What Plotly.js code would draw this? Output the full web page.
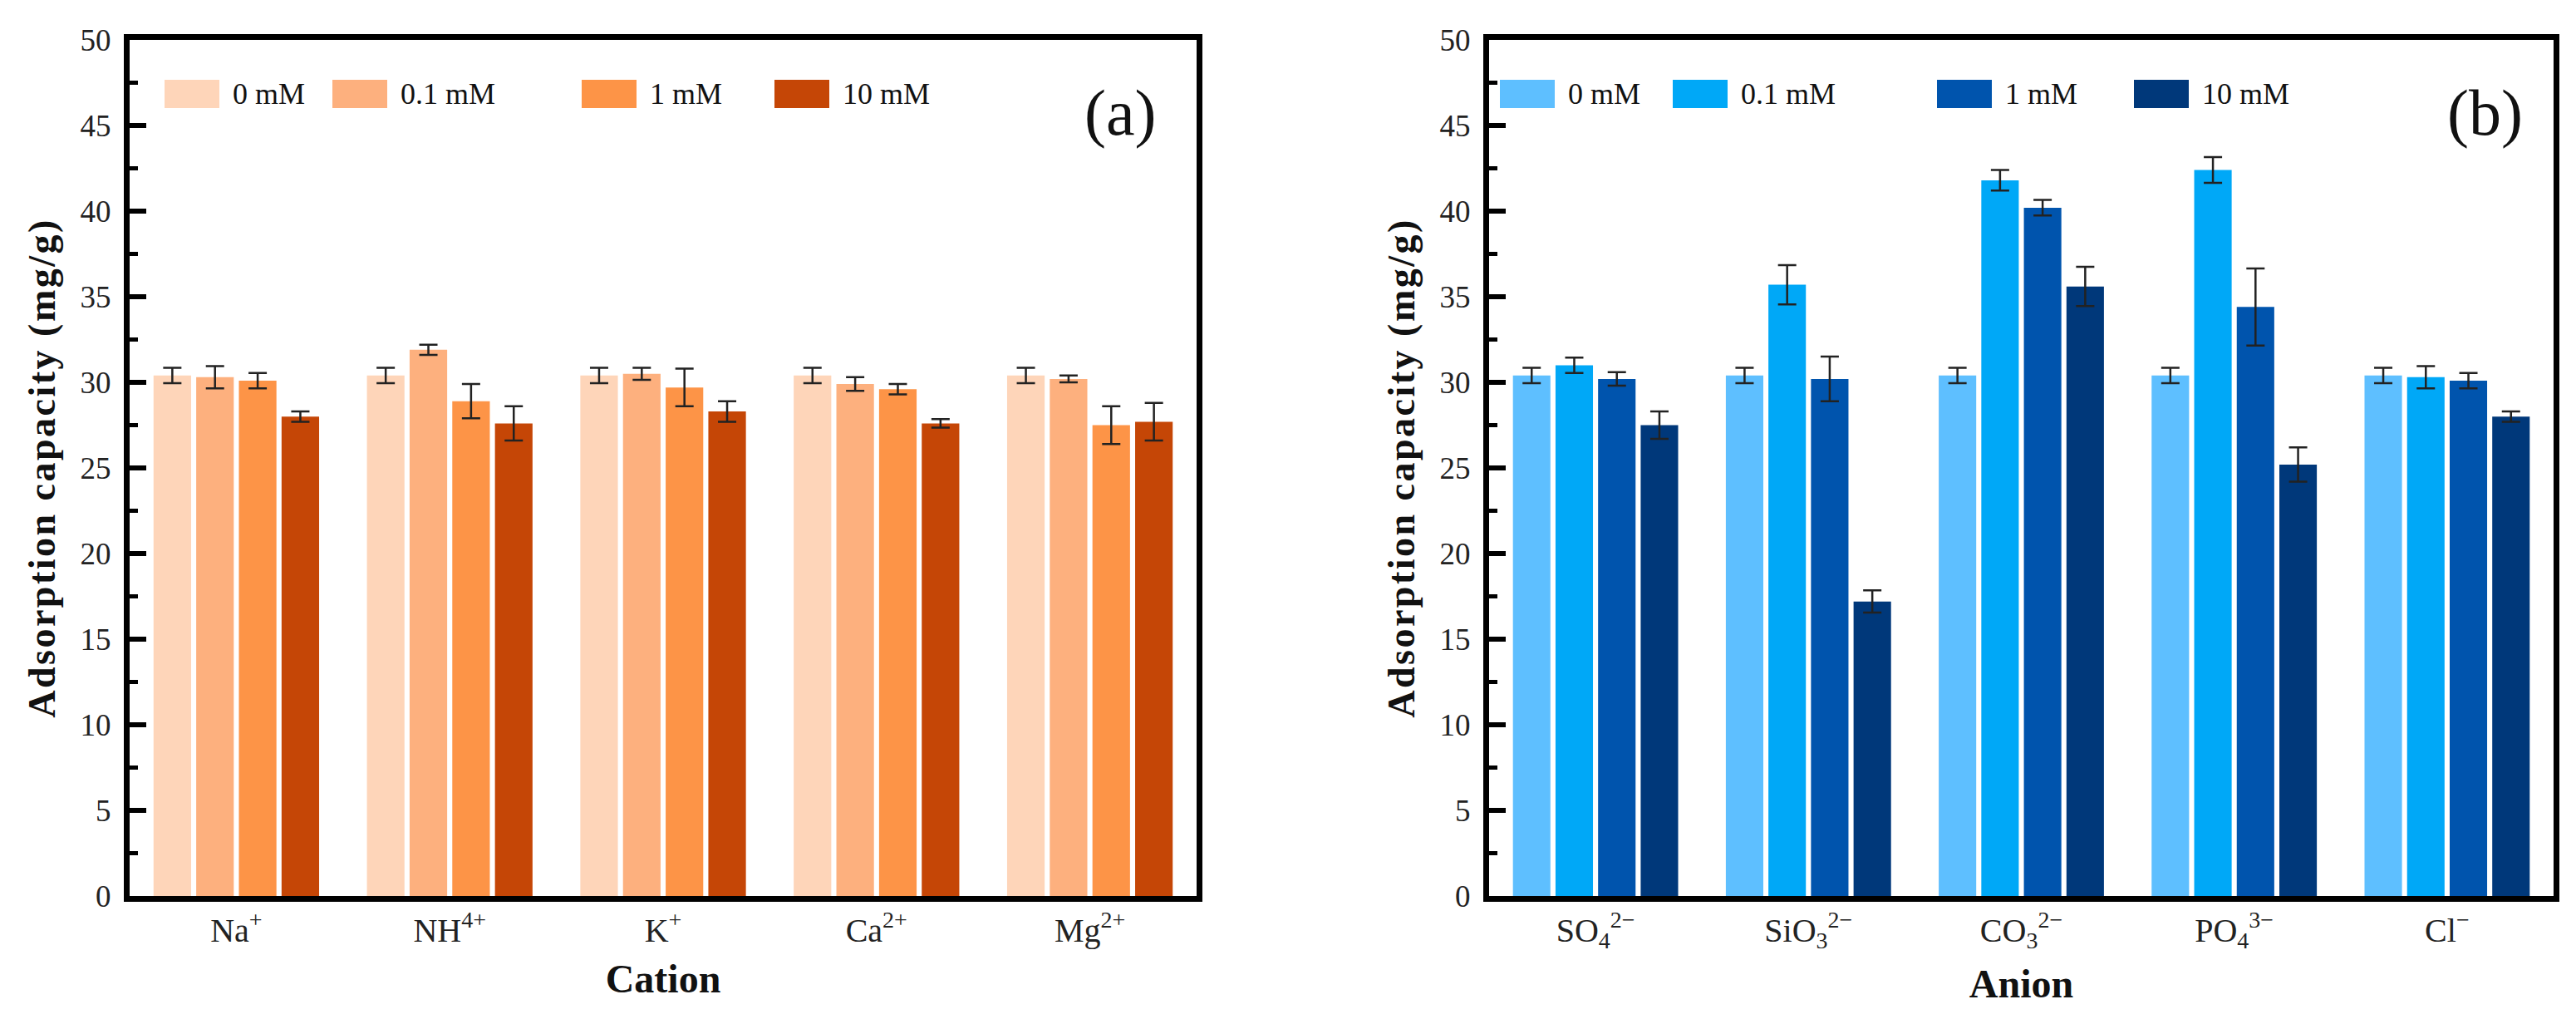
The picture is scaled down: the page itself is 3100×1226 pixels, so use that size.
<!DOCTYPE html>
<html>
<head>
<meta charset="utf-8">
<script src="https://cdn.plot.ly/plotly-3.0.1.min.js"></script>
<style>
  html, body { margin: 0; padding: 0; background: #fff; }
  #chart { width: 3100px; height: 1226px; }
  .g-ytitle text, .g-y2title text { letter-spacing: 2.5px; }
</style>
</head>
<body>
<div id="chart"></div>
<script>
// ---------------- DATA ----------------
const seriesNames = ['0 mM', '0.1 mM', '1 mM', '10 mM'];

const cations = ['Na<sup>+</sup>', 'NH<sup>4+</sup>', 'K<sup>+</sup>', 'Ca<sup>2+</sup>', 'Mg<sup>2+</sup>'];
const cation_0mM   = [30.4, 30.4, 30.4, 30.4, 30.4];
const cation_01mM  = [30.3, 31.9, 30.5, 29.9, 30.2];
const cation_1mM   = [30.1, 28.9, 29.7, 29.6, 27.5];
const cation_10mM  = [28.0, 27.6, 28.3, 27.6, 27.7];
const cationErr_0mM  = [0.45, 0.45, 0.45, 0.45, 0.45];
const cationErr_01mM = [0.65, 0.30, 0.35, 0.40, 0.20];
const cationErr_1mM  = [0.45, 1.00, 1.10, 0.30, 1.10];
const cationErr_10mM = [0.30, 1.00, 0.60, 0.25, 1.10];

const anions = ['SO<sub>4</sub><sup>2\u2212</sup>', 'SiO<sub>3</sub><sup>2\u2212</sup>', 'CO<sub>3</sub><sup>2\u2212</sup>', 'PO<sub>4</sub><sup>3\u2212</sup>', 'Cl<sup>\u2212</sup>'];
const anion_0mM   = [30.4, 30.4, 30.4, 30.4, 30.4];
const anion_01mM  = [31.0, 35.7, 41.8, 42.4, 30.3];
const anion_1mM   = [30.2, 30.2, 40.2, 34.4, 30.1];
const anion_10mM  = [27.5, 17.2, 35.6, 25.2, 28.0];
const anionErr_0mM  = [0.45, 0.45, 0.45, 0.45, 0.45];
const anionErr_01mM = [0.45, 1.15, 0.60, 0.75, 0.65];
const anionErr_1mM  = [0.40, 1.30, 0.45, 2.25, 0.45];
const anionErr_10mM = [0.80, 0.65, 1.15, 1.00, 0.30];

const yTickVals = [0, 5, 10, 15, 20, 25, 30, 35, 40, 45, 50];

// ---------------- STYLE ----------------
const orangeColors = ['#FED5B9', '#FDB07E', '#FD9447', '#C54606'];
const blueColors   = ['#5EBFFF', '#00A8F7', '#0054AD', '#00387A'];
const FONT = 'Liberation Serif, Times New Roman, serif';
const W = 3100, H = 1226;
const px = v => v / W;
const py = v => 1 - v / H;

const panels = [
  { xa: 'x', ya: 'y', cats: cations,
    vals: [cation_0mM, cation_01mM, cation_1mM, cation_10mM],
    errs: [cationErr_0mM, cationErr_01mM, cationErr_1mM, cationErr_10mM],
    colors: orangeColors, title: 'Cation', tag: '(a)',
    x0: 156, x1: 1440, legendX: [198, 400, 700, 932], tagX: 1348 },
  { xa: 'x2', ya: 'y2', cats: anions,
    vals: [anion_0mM, anion_01mM, anion_1mM, anion_10mM],
    errs: [anionErr_0mM, anionErr_01mM, anionErr_1mM, anionErr_10mM],
    colors: blueColors, title: 'Anion', tag: '(b)',
    x0: 1792, x1: 3073, legendX: [1805, 2013, 2331, 2568], tagX: 2990 }
];
const plotTop = 48, plotBottom = 1078;

const traces = [];
const shapes = [];
const annotations = [];

panels.forEach(p => {
  seriesNames.forEach((name, i) => {
    traces.push({
      type: 'bar', name: name, x: p.cats, y: p.vals[i],
      xaxis: p.xa, yaxis: p.ya, showlegend: false,
      marker: { color: p.colors[i], line: { width: 0 } },
      error_y: { type: 'data', array: p.errs[i], visible: true,
                 color: '#222', thickness: 2.5, width: 11 }
    });
    // legend swatch + label
    const sx = p.legendX[i];
    shapes.push({ type: 'rect', xref: 'paper', yref: 'paper',
      x0: px(sx), x1: px(sx + 66), y0: py(130), y1: py(96),
      fillcolor: p.colors[i], line: { width: 0 } });
    annotations.push({ xref: 'paper', yref: 'paper', x: px(sx + 80), y: py(113),
      xanchor: 'left', yanchor: 'middle', showarrow: false, text: name,
      font: { family: FONT, size: 36, color: '#111' } });
  });
  annotations.push({ xref: 'paper', yref: 'paper', x: px(p.tagX), y: py(135),
    xanchor: 'center', yanchor: 'middle', showarrow: false, text: p.tag,
    font: { family: FONT, size: 78, color: '#111' } });
});

function xAxis(p, anchor) {
  return {
    domain: [px(p.x0), px(p.x1)], anchor: anchor, type: 'category',
    range: [-0.5, 4.5], showgrid: false, zeroline: false,
    showline: true, linewidth: 7, linecolor: '#000', mirror: true,
    ticks: '', tickfont: { family: FONT, size: 40, color: '#222' },
    title: { text: p.title, standoff: 22,
             font: { family: FONT, size: 48, color: '#111', weight: 'bold' } }
  };
}
function yAxis(anchor) {
  return {
    domain: [py(plotBottom), py(plotTop)], anchor: anchor,
    range: [0, 50], tickmode: 'array', tickvals: yTickVals,
    showgrid: false, zeroline: false,
    showline: true, linewidth: 7, linecolor: '#000', mirror: true,
    ticks: 'inside', ticklen: 20, tickwidth: 6, tickcolor: '#000',
    minor: { ticks: 'inside', dtick: 2.5, ticklen: 10, tickwidth: 5, tickcolor: '#000', showgrid: false },
    tickfont: { family: FONT, size: 37, color: '#222' },
    ticklabelstandoff: 8,
    title: { text: 'Adsorption capacity (mg/g)', standoff: 18,
             font: { family: FONT, size: 46, color: '#111', weight: 'bold' } }
  };
}

const layout = {
  width: W, height: H,
  margin: { l: 0, r: 0, t: 0, b: 0 },
  paper_bgcolor: '#fff', plot_bgcolor: '#fff',
  barmode: 'group', bargap: 0.2, bargroupgap: 0.12,
  showlegend: false,
  xaxis: xAxis(panels[0], 'y'),
  yaxis: yAxis('x'),
  xaxis2: xAxis(panels[1], 'y2'),
  yaxis2: yAxis('x2'),
  shapes: shapes,
  annotations: annotations
};

Plotly.newPlot('chart', traces, layout, { displayModeBar: false, staticPlot: true });
</script>
</body>
</html>
